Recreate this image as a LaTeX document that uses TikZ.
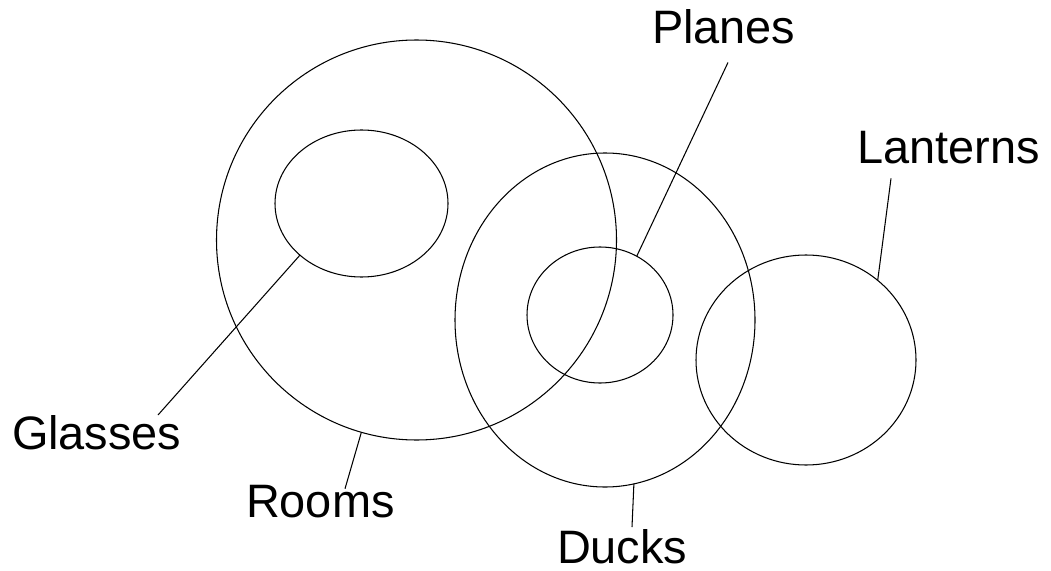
\documentclass[tikz,border=0pt]{standalone}
\usepackage{fontspec}
\setmainfont{Liberation Sans}
\usetikzlibrary{shapes.geometric}

\def\pxu{0.02cm}

\begin{document}
\begin{tikzpicture}[x=0.02cm, y=-0.02cm,
    set/.style={ellipse, draw, line width=0.6pt, inner sep=0pt, outer sep=0pt},
    lbl/.style={inner sep=0pt, outer sep=0pt, font=\fontsize{26.7pt}{32pt}\selectfont},
    leader/.style={line width=0.6pt}]
    \useasboundingbox (0,0) rectangle (1051,571);

    % The sets
    \node[set, minimum width=400*\pxu, minimum height=400*\pxu] (rooms) at (416.5,240) {};
    \node[set, minimum width=173*\pxu, minimum height=147*\pxu] (glasses) at (361.5,203.5) {};
    \node[set, minimum width=300*\pxu, minimum height=334*\pxu] (ducks) at (605,320) {};
    \node[set, minimum width=146*\pxu, minimum height=136*\pxu] (planes) at (600,315) {};
    \node[set, minimum width=220*\pxu, minimum height=210*\pxu] (lanterns) at (806,360) {};

    % Labels
    \node[lbl, anchor=base west] (glasses label) at (12,449) {Glasses};
    \node[lbl, anchor=base west] (rooms label) at (246,517) {Rooms};
    \node[lbl, anchor=base west] (ducks label) at (557,563) {Ducks};
    \node[lbl, anchor=base west] (planes label) at (652,44) {Planes};
    \node[lbl, anchor=base west] (lanterns label) at (857,163) {Lanterns};

    % Leader lines
    \draw[leader] ([shift={(146,0)}]glasses label.north west) -- (glasses.220.6);
    \draw[leader] ([shift={(99,4)}]rooms label.north west) -- (rooms.254.4);
    \draw[leader] ([shift={(75,-2)}]ducks label.north west) -- (ducks.280);
    \draw[leader] ([shift={(76,18)}]planes label.south west) -- (planes.58.3);
    \draw[leader] ([shift={(34,15)}]lanterns label.south west) -- (lanterns.48);
\end{tikzpicture}
\end{document}
